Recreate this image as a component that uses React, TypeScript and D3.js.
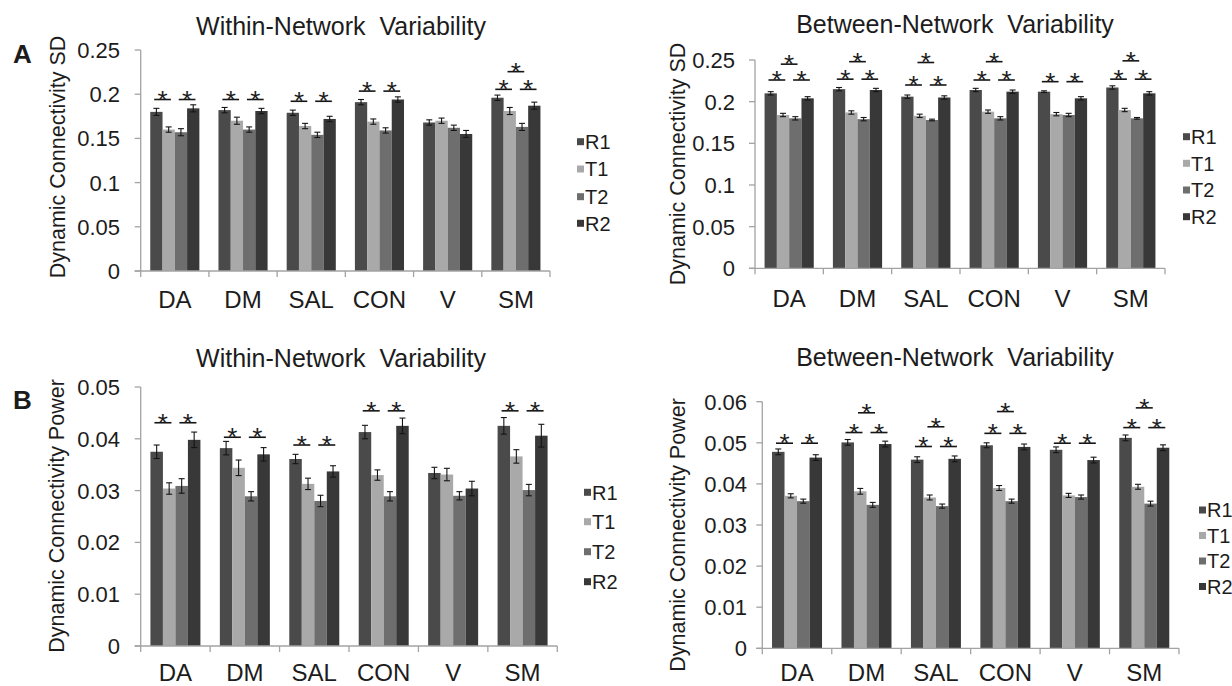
import React from 'react';
import * as d3 from 'd3';

// ---------- data ----------
const categories = ['DA', 'DM', 'SAL', 'CON', 'V', 'SM'];
const seriesNames = ['R1', 'T1', 'T2', 'R2'];
const seriesColors = ['#4a4a4a', '#a9a9a9', '#6e6e6e', '#383838'];

// Panel A, within-network SD
const aWithinR1 = [0.180, 0.182, 0.179, 0.191, 0.168, 0.196];
const aWithinT1 = [0.160, 0.170, 0.164, 0.169, 0.170, 0.181];
const aWithinT2 = [0.157, 0.160, 0.154, 0.159, 0.162, 0.163];
const aWithinR2 = [0.184, 0.181, 0.172, 0.194, 0.155, 0.187];
const aWithinErrR1 = [0.004, 0.003, 0.003, 0.003, 0.003, 0.003];
const aWithinErrT1 = [0.003, 0.004, 0.003, 0.003, 0.003, 0.004];
const aWithinErrT2 = [0.004, 0.003, 0.003, 0.003, 0.003, 0.004];
const aWithinErrR2 = [0.004, 0.003, 0.003, 0.003, 0.004, 0.004];
const aWithinSigLower = [0.194, 0.194, 0.192, 0.2035, null, 0.2055];
const aWithinSigUpper = [null, null, null, null, null, 0.2255];

// Panel A, between-network SD
const aBetweenR1 = [0.210, 0.215, 0.206, 0.214, 0.212, 0.217];
const aBetweenT1 = [0.184, 0.187, 0.183, 0.188, 0.185, 0.190];
const aBetweenT2 = [0.180, 0.179, 0.178, 0.180, 0.184, 0.180];
const aBetweenR2 = [0.204, 0.214, 0.205, 0.212, 0.204, 0.210];
const aBetweenErrR1 = [0.002, 0.002, 0.002, 0.002, 0.001, 0.002];
const aBetweenErrT1 = [0.002, 0.002, 0.002, 0.002, 0.002, 0.002];
const aBetweenErrT2 = [0.002, 0.002, 0.001, 0.002, 0.002, 0.001];
const aBetweenErrR2 = [0.002, 0.002, 0.002, 0.002, 0.002, 0.002];
const aBetweenSigLower = [0.226, 0.227, 0.220, 0.226, 0.224, 0.227];
const aBetweenSigUpper = [0.245, 0.248, 0.247, 0.248, null, 0.249];

// Panel B, within-network power
const bWithinR1 = [0.0375, 0.0382, 0.0361, 0.0413, 0.0334, 0.0425];
const bWithinT1 = [0.0304, 0.0344, 0.0313, 0.0330, 0.0331, 0.0366];
const bWithinT2 = [0.0309, 0.0289, 0.0280, 0.0289, 0.0290, 0.0301];
const bWithinR2 = [0.0398, 0.0370, 0.0337, 0.0425, 0.0304, 0.0406];
const bWithinErrR1 = [0.0013, 0.0013, 0.0009, 0.0013, 0.0011, 0.0016];
const bWithinErrT1 = [0.0011, 0.0015, 0.0011, 0.0010, 0.0012, 0.0013];
const bWithinErrT2 = [0.0014, 0.0009, 0.0011, 0.0009, 0.0008, 0.0011];
const bWithinErrR2 = [0.0015, 0.0013, 0.0011, 0.0015, 0.0014, 0.0022];
const bWithinSigLower = [0.0431, 0.0403, 0.0388, 0.0454, null, 0.0454];
const bWithinSigUpper = [null, null, null, null, null, null];

// Panel B, between-network power
const bBetweenR1 = [0.0478, 0.0501, 0.0459, 0.0494, 0.0483, 0.0512];
const bBetweenT1 = [0.0371, 0.0382, 0.0367, 0.0390, 0.0372, 0.0393];
const bBetweenT2 = [0.0358, 0.0349, 0.0346, 0.0358, 0.0368, 0.0352];
const bBetweenR2 = [0.0464, 0.0497, 0.0461, 0.0490, 0.0458, 0.0488];
const bBetweenErrR1 = [0.0007, 0.0007, 0.0007, 0.0006, 0.0007, 0.0007];
const bBetweenErrT1 = [0.0005, 0.0007, 0.0006, 0.0006, 0.0005, 0.0006];
const bBetweenErrT2 = [0.0005, 0.0006, 0.0005, 0.0005, 0.0005, 0.0006];
const bBetweenErrR2 = [0.0007, 0.0007, 0.0007, 0.0007, 0.0007, 0.0007];
const bBetweenSigLower = [0.0499, 0.0525, 0.0491, 0.0523, 0.0499, 0.0537];
const bBetweenSigUpper = [null, 0.0573, 0.0539, 0.0576, null, 0.0585];

const sdTicks = [0, 0.05, 0.1, 0.15, 0.2, 0.25];
const sdTickLabels = ['0', '0.05', '0.1', '0.15', '0.2', '0.25'];
const powWithinTicks = [0, 0.01, 0.02, 0.03, 0.04, 0.05];
const powWithinTickLabels = ['0', '0.01', '0.02', '0.03', '0.04', '0.05'];
const powBetweenTicks = [0, 0.01, 0.02, 0.03, 0.04, 0.05, 0.06];
const powBetweenTickLabels = ['0', '0.01', '0.02', '0.03', '0.04', '0.05', '0.06'];

const titleWithin = 'Within-Network  Variability';
const titleBetween = 'Between-Network  Variability';
const yLabelSD = 'Dynamic Connectivity SD';
const yLabelPower = 'Dynamic Connectivity Power';

// ---------- layout ----------
const FONT = '"Liberation Sans", Arial, Helvetica, sans-serif';
const TEXT = '#1c1c1c';
const AXIS = '#a3a3a3';

type Layout = {
  x0: number; x1: number; y0: number; yTop: number; tickRight: number; catY: number;
  yLabelX: number; yLabelY: number; titleX: number; titleY: number;
  legX: number; legRows: number[]; letter?: string; letterY?: number;
};

const panels = [
  {
    title: titleWithin, yLabel: yLabelSD, yMax: 0.25, ticks: sdTicks, tickLabels: sdTickLabels,
    values: [aWithinR1, aWithinT1, aWithinT2, aWithinR2],
    errors: [aWithinErrR1, aWithinErrT1, aWithinErrT2, aWithinErrR2],
    sigLower: aWithinSigLower, sigUpper: aWithinSigUpper,
    L: { x0: 140.7, x1: 550, y0: 271, yTop: 50, tickRight: 120, catY: 308.3, yLabelX: 65, yLabelY: 157,
      titleX: 341, titleY: 35, legX: 577, legRows: [141.7, 169, 196.7, 223.3], letter: 'A', letterY: 63 } as Layout,
  },
  {
    title: titleBetween, yLabel: yLabelSD, yMax: 0.25, ticks: sdTicks, tickLabels: sdTickLabels,
    values: [aBetweenR1, aBetweenT1, aBetweenT2, aBetweenR2],
    errors: [aBetweenErrR1, aBetweenErrT1, aBetweenErrT2, aBetweenErrR2],
    sigLower: aBetweenSigLower, sigUpper: aBetweenSigUpper,
    L: { x0: 755, x1: 1165, y0: 268.3, yTop: 60, tickRight: 735, catY: 306.5, yLabelX: 685, yLabelY: 164,
      titleX: 955, titleY: 32.5, legX: 1183, legRows: [136.7, 163.3, 190, 216.7] } as Layout,
  },
  {
    title: titleWithin, yLabel: yLabelPower, yMax: 0.05, ticks: powWithinTicks, tickLabels: powWithinTickLabels,
    values: [bWithinR1, bWithinT1, bWithinT2, bWithinR2],
    errors: [bWithinErrR1, bWithinErrT1, bWithinErrT2, bWithinErrR2],
    sigLower: bWithinSigLower, sigUpper: bWithinSigUpper,
    L: { x0: 140.7, x1: 557.3, y0: 646, yTop: 387, tickRight: 120, catY: 680.5, yLabelX: 64, yLabelY: 516,
      titleX: 341, titleY: 366.7, legX: 584, legRows: [492.3, 521.7, 551.7, 581.7], letter: 'B', letterY: 409 } as Layout,
  },
  {
    title: titleBetween, yLabel: yLabelPower, yMax: 0.06, ticks: powBetweenTicks, tickLabels: powBetweenTickLabels,
    values: [bBetweenR1, bBetweenT1, bBetweenT2, bBetweenR2],
    errors: [bBetweenErrR1, bBetweenErrT1, bBetweenErrT2, bBetweenErrR2],
    sigLower: bBetweenSigLower, sigUpper: bBetweenSigUpper,
    L: { x0: 762.3, x1: 1179, y0: 648.3, yTop: 401.7, tickRight: 747, catY: 681, yLabelX: 685, yLabelY: 535,
      titleX: 955, titleY: 366, legX: 1199, legRows: [510, 535.5, 561, 586.5] } as Layout,
  },
];

function Star({ x, yLine }: { x: number; yLine: number }) {
  return (
    <text x={x} y={yLine + 9} textAnchor="middle" fontSize={26} fill={TEXT} fontFamily={FONT}>*</text>
  );
}

function Panel({ cfg }: { cfg: typeof panels[number] }) {
  const L = cfg.L;
  const x = d3.scaleBand<string>().domain(categories).range([L.x0, L.x1]).padding(0);
  const y = d3.scaleLinear().domain([0, cfg.yMax]).range([L.y0, L.yTop]);
  const groupW = x.bandwidth() * 0.72;
  const xs = d3.scaleBand<string>().domain(seriesNames).range([0, groupW]).padding(0);
  const bw = xs.bandwidth();
  const off = (x.bandwidth() - groupW) / 2;
  const barX = (ci: number, si: number) => (x(categories[ci]) as number) + off + (xs(seriesNames[si]) as number);
  const barC = (ci: number, si: number) => barX(ci, si) + bw / 2;
  const bracketHalf = bw * 0.68;
  const boundaries = [...categories.map((c) => x(c) as number), L.x1];

  const brackets: { ci: number; a: number; b: number; level: number }[] = [];
  cfg.sigLower.forEach((lv, ci) => {
    if (lv != null) {
      brackets.push({ ci, a: 0, b: 1, level: lv });
      brackets.push({ ci, a: 2, b: 3, level: lv });
    }
  });
  cfg.sigUpper.forEach((lv, ci) => {
    if (lv != null) brackets.push({ ci, a: 1, b: 2, level: lv });
  });

  return (
    <g>
      {/* title */}
      <text x={L.titleX} y={L.titleY} textAnchor="middle" fontSize={25} fill={TEXT} fontFamily={FONT}
        style={{ whiteSpace: 'pre' }}>{cfg.title}</text>
      {L.letter && (
        <text x={13} y={L.letterY} fontSize={26} fontWeight="bold" fill={TEXT} fontFamily={FONT}>{L.letter}</text>
      )}
      {/* y label */}
      <text transform={`translate(${L.yLabelX},${L.yLabelY}) rotate(-90)`} textAnchor="middle" fontSize={21.5}
        fill={TEXT} fontFamily={FONT}>{cfg.yLabel}</text>
      {/* bars */}
      {cfg.values.map((vals, si) =>
        vals.map((v, ci) => (
          <rect key={`b${si}-${ci}`} x={barX(ci, si)} y={y(v)} width={bw} height={L.y0 - y(v)} fill={seriesColors[si]} />
        ))
      )}
      {/* error bars */}
      {cfg.values.map((vals, si) =>
        vals.map((v, ci) => {
          const e = cfg.errors[si][ci];
          const cx = barC(ci, si);
          return (
            <g key={`e${si}-${ci}`} stroke="#151515" strokeWidth={1.1}>
              <line x1={cx} x2={cx} y1={y(v - e)} y2={y(v + e)} />
              <line x1={cx - 3} x2={cx + 3} y1={y(v + e)} y2={y(v + e)} />
              <line x1={cx - 3} x2={cx + 3} y1={y(v - e)} y2={y(v - e)} />
            </g>
          );
        })
      )}
      {/* axes */}
      <line x1={L.x0} x2={L.x0} y1={L.y0} y2={L.yTop} stroke={AXIS} strokeWidth={1.3} />
      <line x1={L.x0 - 6} x2={L.x1} y1={L.y0} y2={L.y0} stroke={AXIS} strokeWidth={1.3} />
      {cfg.ticks.map((t, i) => (
        <g key={`t${i}`}>
          <line x1={L.x0 - 6} x2={L.x0} y1={y(t)} y2={y(t)} stroke={AXIS} strokeWidth={1.3} />
          <text x={L.tickRight} y={y(t)} dy="0.36em" textAnchor="end" fontSize={22} fill={TEXT} fontFamily={FONT}>
            {cfg.tickLabels[i]}
          </text>
        </g>
      ))}
      {boundaries.map((bx, i) => (
        <line key={`xt${i}`} x1={bx} x2={bx} y1={L.y0} y2={L.y0 + 6} stroke={AXIS} strokeWidth={1.3} />
      ))}
      {categories.map((c) => (
        <text key={c} x={(x(c) as number) + x.bandwidth() / 2} y={L.catY} textAnchor="middle" fontSize={24}
          fill={TEXT} fontFamily={FONT}>{c}</text>
      ))}
      {/* significance */}
      {brackets.map((b, i) => {
        const mid = (barC(b.ci, b.a) + barC(b.ci, b.b)) / 2;
        const yl = y(b.level);
        return (
          <g key={`s${i}`}>
            <line x1={mid - bracketHalf} x2={mid + bracketHalf} y1={yl} y2={yl} stroke="#151515" strokeWidth={1.6} />
            <Star x={mid} yLine={yl} />
          </g>
        );
      })}
      {/* legend */}
      {seriesNames.map((s, si) => (
        <g key={`l${s}`}>
          <rect x={L.legX} y={L.legRows[si] - 3.5} width={7} height={7} fill={seriesColors[si]} />
          <text x={L.legX + 8} y={L.legRows[si]} dy="0.36em" fontSize={20} fill={TEXT} fontFamily={FONT}>{s}</text>
        </g>
      ))}
    </g>
  );
}

export default function App() {
  return (
    <svg width={1232} height={686} style={{ position: 'absolute', left: 0, top: 0, background: '#fff' }}>
      <rect x={0} y={0} width={1232} height={686} fill="#fff" />
      {panels.map((p, i) => (
        <Panel key={i} cfg={p} />
      ))}
    </svg>
  );
}
